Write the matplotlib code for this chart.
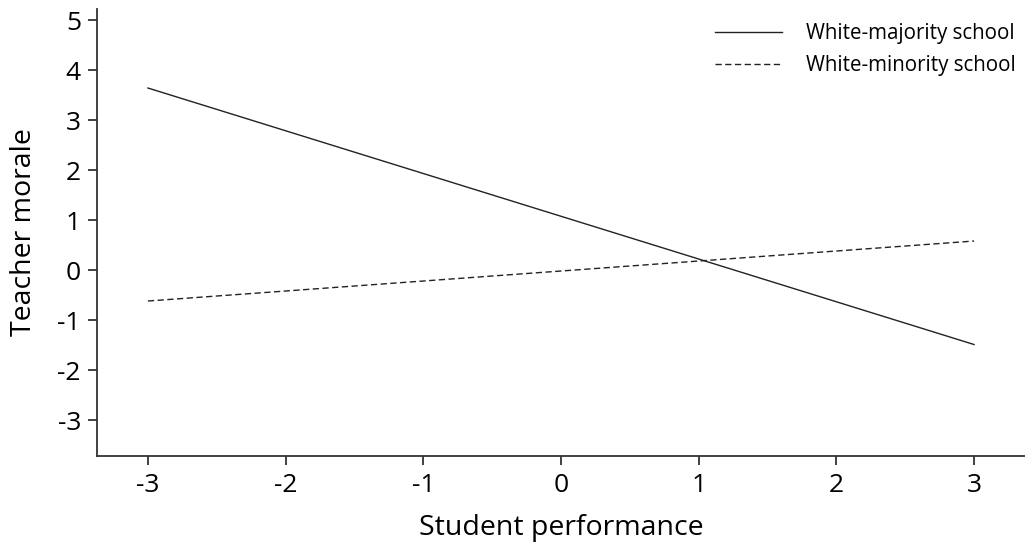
import matplotlib
matplotlib.use("Agg")
import matplotlib.pyplot as plt
import numpy as np

# Simple slopes: teacher morale vs student performance by school composition
performance = [-3, 3]
majority_morale = [3.64, -1.49]
minority_morale = [-0.62, 0.58]
series_labels = ["White-majority school", "White-minority school"]

x_ticks = [-3, -2, -1, 0, 1, 2, 3]
y_ticks = [-3, -2, -1, 0, 1, 2, 3, 4, 5]

plt.rcParams["font.family"] = ["Open Sans", "DejaVu Sans"]

fig = plt.figure(figsize=(10.25, 5.46), dpi=100, facecolor="white")
ax = fig.add_axes([0.0946, 0.1648, 0.9054, 0.8187])

ax.plot(performance, majority_morale, color="#222222", lw=1.0,
        label=series_labels[0])
ax.plot(performance, minority_morale, color="#222222", lw=1.0,
        linestyle=(0, (4.5, 2.5)), label=series_labels[1])

ax.set_xlim(-3.37, 3.37)
ax.set_ylim(-3.72, 5.22)
ax.set_xticks(x_ticks)
ax.set_yticks(y_ticks)
ax.set_xticklabels([str(v) for v in x_ticks])
ax.set_yticklabels([str(v) for v in y_ticks])

for side in ("top", "right"):
    ax.spines[side].set_visible(False)
for side in ("left", "bottom"):
    ax.spines[side].set_linewidth(1.3)
    ax.spines[side].set_color("#333333")

ax.tick_params(axis="both", direction="out", length=6.5, width=1.3,
               color="#333333", labelsize=19, labelcolor="black")
ax.tick_params(axis="x", pad=6)
ax.tick_params(axis="y", pad=5)

ax.set_xlabel("Student performance", fontsize=20.5, labelpad=11)
ax.set_ylabel("Teacher morale", fontsize=20.5, labelpad=14)

leg = ax.legend(loc="upper right", frameon=False, fontsize=14.8,
                handlelength=3.3, handletextpad=1.15, labelspacing=0.55,
                borderaxespad=0.05, bbox_to_anchor=(1.0, 0.99))

fig.savefig("out.png", dpi=100, facecolor="white")
